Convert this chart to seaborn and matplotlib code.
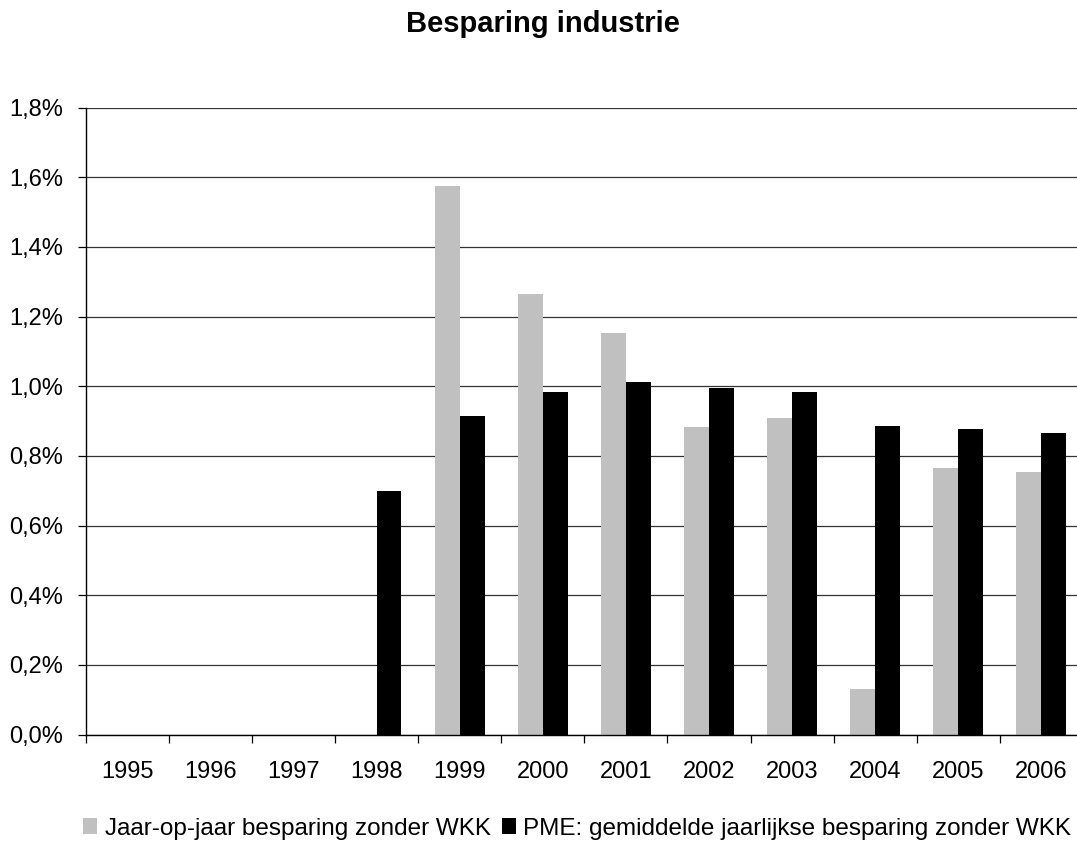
import numpy as np
import pandas as pd
import matplotlib
matplotlib.use("Agg")
import matplotlib.pyplot as plt
from matplotlib.ticker import FuncFormatter, FixedLocator
import seaborn as sns

# Data (percent)
years = ["1995", "1996", "1997", "1998", "1999", "2000",
         "2001", "2002", "2003", "2004", "2005", "2006"]
jaar_op_jaar = [np.nan, np.nan, np.nan, np.nan, 1.574, 1.266,
                1.152, 0.883, 0.909, 0.132, 0.764, 0.753]
pme_gemiddeld = [np.nan, np.nan, np.nan, 0.699, 0.915, 0.985,
                 1.012, 0.995, 0.985, 0.887, 0.877, 0.867]
series_names = ["Jaar-op-jaar besparing zonder WKK",
                "PME: gemiddelde jaarlijkse besparing zonder WKK"]
y_ticks = [0.0, 0.2, 0.4, 0.6, 0.8, 1.0, 1.2, 1.4, 1.6, 1.8]

df = pd.DataFrame({
    "jaar": years * 2,
    "waarde": jaar_op_jaar + pme_gemiddeld,
    "reeks": [series_names[0]] * len(years) + [series_names[1]] * len(years),
})

sns.set_style("white")
plt.rcParams["font.family"] = ["Liberation Sans", "DejaVu Sans"]
plt.rcParams["text.color"] = "black"
plt.rcParams["xtick.labelcolor"] = "black"
plt.rcParams["ytick.labelcolor"] = "black"

W, H = 1077, 841
fig = plt.figure(figsize=(W / 100, H / 100), dpi=100)
left_px, right_px, top_px, zero_px = 85.7, 1077, 107.7, 734.5
ax = fig.add_axes([left_px / W, 1 - zero_px / H,
                   (right_px - left_px) / W, (zero_px - top_px) / H])

sns.barplot(data=df, x="jaar", y="waarde", hue="reeks", order=years,
            hue_order=series_names, palette=["#c0c0c0", "#000000"],
            width=0.6, saturation=1, errorbar=None, linewidth=0, ax=ax)

cat_px = 83.1
ax.set_xlim(-0.5, -0.5 + (right_px - left_px) / cat_px)
ax.set_ylim(0, 1.8)

# y axis
ax.set_yticks(y_ticks)
ax.yaxis.set_major_formatter(FuncFormatter(lambda v, p: f"{v:.1f}%".replace(".", ",")))
ax.tick_params(axis="y", direction="out", length=6, width=0.9, color="black",
               pad=10, labelsize=17, labelcolor="black", left=True)
ax.grid(axis="y", color="#333333", linewidth=0.9)
ax.grid(axis="x", visible=False)
ax.set_axisbelow(True)

# x axis: labels at centres, ticks at category boundaries
ax.set_xticks(range(len(years)))
ax.set_xticklabels(years)
ax.tick_params(axis="x", which="major", length=0, pad=19, labelsize=17,
               labelcolor="black")
ax.xaxis.set_minor_locator(FixedLocator(np.arange(-0.5, len(years), 1.0)))
ax.tick_params(axis="x", which="minor", direction="out", length=6, width=0.9,
               color="black", bottom=True)

ax.set_xlabel("")
ax.set_ylabel("")
for s in ["top", "right"]:
    ax.spines[s].set_visible(False)
for s in ["left", "bottom"]:
    ax.spines[s].set_color("black")
    ax.spines[s].set_linewidth(1.0)

# legend below the plot
handles, labels = ax.get_legend_handles_labels()
ax.get_legend().remove()
fig.legend(handles, labels, loc="center left",
           bbox_to_anchor=(82.7 / W, 1 - 828.5 / H), ncol=2, frameon=False,
           fontsize=17.5, handlelength=0.6, handleheight=0.6,
           handletextpad=0.3, columnspacing=0.45, borderpad=0, borderaxespad=0,
           labelcolor="black")

fig.text(543.3 / W, 1 - 32.3 / H, "Besparing industrie", ha="center",
         va="baseline", fontsize=21, fontweight="bold", color="black")

fig.savefig("out.png", dpi=100)
